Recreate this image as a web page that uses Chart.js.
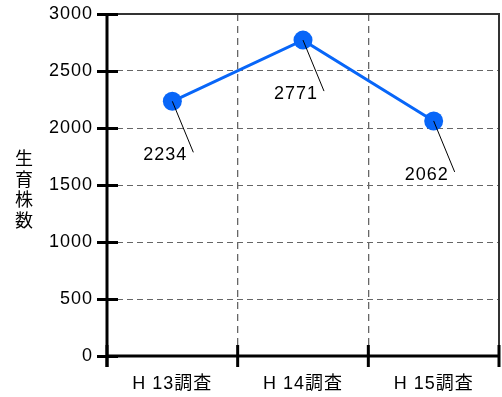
<!DOCTYPE html>
<html>
<head>
<meta charset="utf-8">
<script src="https://cdn.jsdelivr.net/npm/chart.js@4"></script>
<style>
  html, body { margin: 0; padding: 0; background: #fff; }
  #wrap { width: 502px; height: 397px; }
</style>
</head>
<body>
<div id="wrap"><canvas id="c" width="502" height="397"></canvas></div>
<script>
// Survey rounds and counted plants
const categories = ['H 13調査', 'H 14調査', 'H 15調査'];
const plantCounts = [2234, 2771, 2062];
const yTickValues = [0, 500, 1000, 1500, 2000, 2500, 3000];
const yTitle = '生育株数';

const FONT = "'Liberation Sans', Arial, 'Noto Sans CJK JP', sans-serif";
const CJK_FONT = "'Noto Sans CJK JP', sans-serif";
const LINE_BLUE = '#0866f8';

// Slightly widened lettering for all text on the canvas
const spacingPlugin = {
  id: 'letterSpacing',
  beforeDraw(chart) { chart.ctx.letterSpacing = '1px'; }
};

// Heavy axis lines with crossing tick marks, the frame and the stacked title
const axesPlugin = {
  id: 'axesFrame',
  afterDraw(chart) {
    const { ctx, chartArea: a, scales: { x, y } } = chart;
    ctx.save();
    // thin frame on top and right
    ctx.strokeStyle = '#333';
    ctx.lineWidth = 2;
    ctx.beginPath();
    ctx.moveTo(a.left, a.top);
    ctx.lineTo(a.right, a.top);
    ctx.lineTo(a.right, a.bottom);
    ctx.stroke();

    ctx.strokeStyle = '#000';
    ctx.lineWidth = 3;
    ctx.lineCap = 'butt';
    // y axis line
    ctx.beginPath();
    ctx.moveTo(a.left, a.top - 1);
    ctx.lineTo(a.left, a.bottom + 11);
    ctx.stroke();
    // y tick marks crossing the axis
    y.ticks.forEach(t => {
      const py = Math.round(y.getPixelForValue(t.value)) + 0.5;
      ctx.beginPath();
      ctx.moveTo(a.left - 10, py);
      ctx.lineTo(a.left + 11, py);
      ctx.stroke();
    });
    // x axis line
    ctx.beginPath();
    ctx.moveTo(a.left, a.bottom);
    ctx.lineTo(a.right + 1, a.bottom);
    ctx.stroke();
    // x tick marks at category boundaries
    const n = categories.length;
    const bounds = [a.left];
    for (let i = 0; i < n - 1; i++) {
      bounds.push((x.getPixelForValue(i) + x.getPixelForValue(i + 1)) / 2);
    }
    bounds.push(a.right);
    bounds.forEach(px => {
      ctx.beginPath();
      ctx.moveTo(px, a.bottom - 11);
      ctx.lineTo(px, a.bottom + 11);
      ctx.stroke();
    });

    // stacked vertical axis title
    ctx.letterSpacing = '0px';
    ctx.fillStyle = '#000';
    ctx.font = '18px ' + CJK_FONT;
    ctx.textAlign = 'center';
    ctx.textBaseline = 'middle';
    const chars = Array.from(yTitle);
    const step = 20.5;
    const cy = (a.top + a.bottom) / 2 + 4;
    const startY = cy - step * (chars.length - 1) / 2;
    chars.forEach((ch, i) => ctx.fillText(ch, 24, startY + i * step));
    ctx.restore();
  }
};

// Value labels joined to their points by a short leader line
const leaderLabels = {
  id: 'leaderLabels',
  afterDatasetsDraw(chart) {
    const { ctx } = chart;
    const meta = chart.getDatasetMeta(0);
    ctx.save();
    ctx.strokeStyle = '#000';
    ctx.lineWidth = 1;
    ctx.fillStyle = '#000';
    ctx.font = '18px ' + FONT;
    ctx.textAlign = 'center';
    ctx.textBaseline = 'middle';
    meta.data.forEach((pt, i) => {
      const { x, y } = pt.getProps(['x', 'y'], true);
      ctx.beginPath();
      ctx.moveTo(x, y);
      ctx.lineTo(x + 21, y + 51);
      ctx.stroke();
      ctx.fillText(String(plantCounts[i]), x - 7, y + 54);
    });
    ctx.restore();
  }
};

new Chart(document.getElementById('c'), {
  type: 'line',
  data: {
    labels: categories,
    datasets: [{
      data: plantCounts,
      borderColor: LINE_BLUE,
      backgroundColor: LINE_BLUE,
      borderWidth: 3,
      pointRadius: 9.5,
      pointHoverRadius: 9.5,
      pointBorderWidth: 0,
      pointBackgroundColor: LINE_BLUE,
      tension: 0,
      fill: false
    }]
  },
  options: {
    responsive: false,
    animation: false,
    devicePixelRatio: 1,
    layout: { autoPadding: false, padding: { top: 14, right: 3, left: 0, bottom: 0 } },
    plugins: { legend: { display: false }, tooltip: { enabled: false } },
    scales: {
      x: {
        type: 'category',
        offset: true,
        grid: { offset: true, color: '#666', lineWidth: 1.3, drawTicks: false },
        border: { display: false, dash: [7, 5] },
        ticks: { color: '#000', font: { family: FONT, size: 18 }, padding: 17, maxRotation: 0, autoSkip: false },
        afterFit(s) { s.height = 41; s.paddingLeft = 0; s.paddingRight = 0; }
      },
      y: {
        min: 0,
        max: 3000,
        grid: { color: '#666', lineWidth: 1, drawTicks: false },
        border: { display: false, dash: [6, 4] },
        ticks: { color: '#000', font: { family: FONT, size: 18 }, padding: 14, callback: v => String(v) },
        afterBuildTicks(s) { s.ticks = yTickValues.map(v => ({ value: v })); },
        afterFit(s) { s.width = 107; s.paddingTop = 0; s.paddingBottom = 0; }
      }
    }
  },
  plugins: [spacingPlugin, axesPlugin, leaderLabels]
});
</script>
</body>
</html>
